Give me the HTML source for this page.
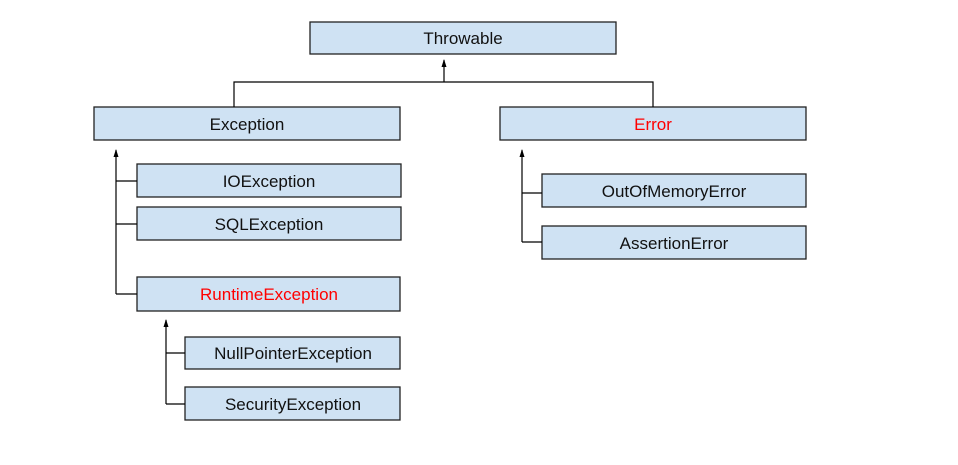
<!DOCTYPE html>
<html><head><style>
html,body{margin:0;padding:0;background:#fff;width:958px;height:465px;overflow:hidden}
</style></head><body>
<svg width="958" height="465" xmlns="http://www.w3.org/2000/svg" font-family="Liberation Sans, Arial, sans-serif" font-size="17">
<defs><marker id="a" markerWidth="6" markerHeight="8" refX="3" refY="1" orient="0" markerUnits="userSpaceOnUse"><path d="M0.5,8 L3,0 L5.5,8 Z" fill="#000"/></marker></defs>
<g fill="#cfe2f3" stroke="#222" stroke-width="1.3">
<rect x="310" y="22" width="306" height="32"/>
<rect x="94" y="107" width="306" height="33"/>
<rect x="500" y="107" width="306" height="33"/>
<rect x="137" y="164" width="264" height="33"/>
<rect x="137" y="207" width="264" height="33"/>
<rect x="137" y="277" width="263" height="34"/>
<rect x="185" y="337" width="215" height="32"/>
<rect x="185" y="387" width="215" height="33"/>
<rect x="542" y="174" width="264" height="33"/>
<rect x="542" y="226" width="264" height="33"/>
</g>
<g stroke="#000" stroke-width="1.2" fill="none">
<path d="M234,107 V82 H653 V107"/>
<path d="M444,82 V60" marker-end="url(#a)"/>
<path d="M116,294 V150" marker-end="url(#a)"/>
<path d="M116,181 H137 M116,224 H137 M116,294 H137"/>
<path d="M166,404 V320" marker-end="url(#a)"/>
<path d="M166,353 H185 M166,404 H185"/>
<path d="M522,242 V150" marker-end="url(#a)"/>
<path d="M522,193 H542 M522,242 H542"/>
</g>
<g text-anchor="middle" fill="#111">
<text x="463" y="44">Throwable</text>
<text x="247" y="130">Exception</text>
<text x="653" y="130" fill="#f00">Error</text>
<text x="269" y="187">IOException</text>
<text x="269" y="230">SQLException</text>
<text x="269" y="300" fill="#f00">RuntimeException</text>
<text x="293" y="359">NullPointerException</text>
<text x="293" y="410">SecurityException</text>
<text x="674" y="197">OutOfMemoryError</text>
<text x="674" y="249">AssertionError</text>
</g>
</svg>
</body></html>
